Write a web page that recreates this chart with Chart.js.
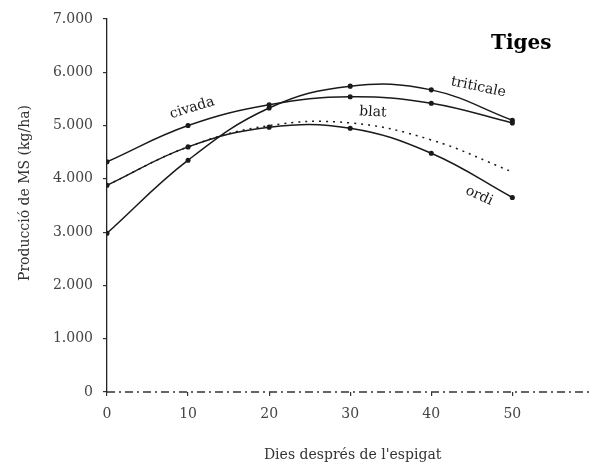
<!DOCTYPE html>
<html>
<head>
<meta charset="utf-8">
<script src="https://cdn.jsdelivr.net/npm/chart.js@4/dist/chart.umd.min.js"></script>
<style>
  html, body { margin: 0; padding: 0; background: #fff; }
  #wrap { width: 590px; height: 465px; }
</style>
</head>
<body>
<div id="wrap"><canvas id="chart"></canvas></div>
<script>
// days after heading
const days = [0, 10, 20, 30, 40, 50];

// dry matter production, kg/ha (stems)
const civada = [4320, 5000, 5390, 5540, 5420, 5050];
const triticale = [2980, 4350, 5330, 5740, 5670, 5100];
const blat = [3880, 4600, 5000, 5050, 4730, 4130];
const ordi = [3880, 4600, 4970, 4950, 4480, 3650];

const yTicks = [0, 1000, 2000, 3000, 4000, 5000, 6000, 7000];

// curve names written next to the lines (data coords)
const seriesNames = ['civada', 'triticale', 'blat', 'ordi'];
const nameX = [10.5, 45.8, 32.8, 45.9];
const nameY = [5330, 5720, 5250, 3680];
const nameAngle = [-17, 12, 3, 25];

const FONT = '"DejaVu Serif", "Liberation Serif", serif';
const INK = '#1a1a1a';

function fmt(v) {
    return String(v).replace(/\B(?=(\d{3})+(?!\d))/g, '.');
}

function toPoints(arr) {
    return arr.map((v, i) => ({ x: days[i], y: v }));
}

// draws the dashed baseline, axis titles and in-plot labels
const extras = {
    id: 'extras',
    afterDraw(chart) {
        const ctx = chart.ctx;
        const xs = chart.scales.x;
        const ys = chart.scales.y;
        const area = chart.chartArea;

        ctx.save();
        // dashed x axis
        ctx.strokeStyle = '#333';
        ctx.lineWidth = 1.3;
        ctx.setLineDash([8, 4, 2, 4]);
        ctx.beginPath();
        ctx.moveTo(area.left, ys.getPixelForValue(0));
        ctx.lineTo(590, ys.getPixelForValue(0));
        ctx.stroke();
        ctx.setLineDash([]);

        ctx.fillStyle = '#333';
        ctx.textAlign = 'center';
        ctx.textBaseline = 'middle';

        // axis titles
        ctx.font = '14px ' + FONT;
        ctx.fillText("Dies després de l'espigat", xs.getPixelForValue(30.3), 455);
        ctx.save();
        ctx.translate(25, 193);
        ctx.rotate(-Math.PI / 2);
        ctx.fillText('Producció de MS (kg/ha)', 0, 0);
        ctx.restore();

        // curve names
        ctx.fillStyle = INK;
        ctx.font = '14px ' + FONT;
        seriesNames.forEach((name, i) => {
            ctx.save();
            ctx.translate(xs.getPixelForValue(nameX[i]), ys.getPixelForValue(nameY[i]));
            ctx.rotate(nameAngle[i] * Math.PI / 180);
            ctx.fillText(name, 0, 0);
            ctx.restore();
        });

        // panel title
        ctx.font = 'bold 20px ' + FONT;
        ctx.fillStyle = '#000';
        ctx.fillText('Tiges', xs.getPixelForValue(51.1), ys.getPixelForValue(6530));
        ctx.restore();
    }
};

function lineSet(label, data, dashed) {
    return {
        label: label,
        data: toPoints(data),
        borderColor: INK,
        backgroundColor: INK,
        borderWidth: 1.5,
        borderDash: dashed ? [2, 5] : [],
        pointRadius: dashed ? 0 : 1.8,
        pointStyle: 'circle',
        tension: 0.4,
        fill: false
    };
}

new Chart(document.getElementById('chart'), {
    type: 'line',
    data: {
        datasets: [
            lineSet('civada', civada, false),
            lineSet('triticale', triticale, false),
            lineSet('ordi', ordi, false),
            lineSet('blat', blat, true)
        ]
    },
    options: {
        responsive: true,
        maintainAspectRatio: false,
        animation: false,
        layout: { padding: { top: 19, right: 0, left: 0, bottom: 0 } },
        plugins: {
            legend: { display: false },
            tooltip: { enabled: false }
        },
        scales: {
            x: {
                type: 'linear',
                min: 0,
                max: 58.9,
                afterBuildTicks: s => {
                    s.ticks = s.ticks.filter(t => t.value <= 50 && t.value % 10 === 0);
                },
                afterFit: s => { s.height = 73; },
                border: { display: false },
                grid: { drawOnChartArea: false, tickLength: 4, color: '#333', lineWidth: 1.2 },
                ticks: {
                    stepSize: 10,
                    padding: 10,
                    color: '#444',
                    font: { family: FONT, size: 14 },
                    maxRotation: 0
                }
            },
            y: {
                min: 0,
                max: 7000,
                afterBuildTicks: s => {
                    s.ticks = yTicks.map(v => ({ value: v }));
                },
                afterFit: s => { s.width = 107; },
                border: { display: true, color: '#222', width: 1.3 },
                grid: { drawOnChartArea: false, tickLength: 4, color: '#333', lineWidth: 1.2 },
                ticks: {
                    padding: 10,
                    color: '#444',
                    font: { family: FONT, size: 14 },
                    callback: v => fmt(v)
                }
            }
        }
    },
    plugins: [extras]
});
</script>
</body>
</html>
